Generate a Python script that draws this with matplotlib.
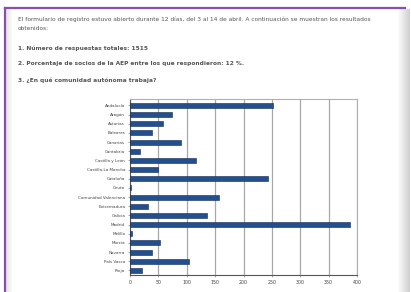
import numpy as np
import matplotlib.pyplot as plt
from matplotlib.patches import Rectangle
from matplotlib.lines import Line2D

# comunidades y numero de respuestas
comunidades = ['Andalucía', 'Aragón', 'Asturias', 'Baleares', 'Canarias', 'Cantabria',
               'Castilla y León', 'Castilla-La Mancha', 'Cataluña', 'Ceuta',
               'Comunidad Valenciana', 'Extremadura', 'Galicia', 'Madrid', 'Melilla',
               'Murcia', 'Navarra', 'País Vasco', 'Rioja']
respuestas = [252, 74, 58, 39, 90, 18, 116, 49, 243, 1, 157, 31, 136, 387, 3, 53, 39, 104, 21]
ticks = [0, 50, 100, 150, 200, 250, 300, 350, 400]

textos = ['El formulario de registro estuvo abierto durante 12 días, del 3 al 14 de abril. A continuación se muestran los resultados',
          'obtenidos:',
          '1. Número de respuestas totales: 1515',
          '2. Porcentaje de socios de la AEP entre los que respondieron: 12 %.',
          '3. ¿En qué comunidad autónoma trabaja?']

W, H = 411, 292
fig = plt.figure(figsize=(W / 100, H / 100), dpi=100)
fig.patch.set_facecolor('white')

# sombra a la derecha y a la izquierda
for i in range(12):
    fig.patches.append(Rectangle(((398 + i) / W, 0), 1 / W, 1 - 9 / H, transform=fig.transFigure,
                                 facecolor='#b0b0b0', alpha=0.05 * (i + 1), edgecolor='none'))
for i in range(6):
    fig.patches.append(Rectangle(((6 + i) / W, 0), 1 / W, 1 - 9 / H, transform=fig.transFigure,
                                 facecolor='#c0c0c0', alpha=0.4 - 0.06 * i, edgecolor='none'))
# lineas moradas arriba e izquierda
fig.lines.append(Line2D([5 / W, 405 / W], [1 - 8 / H, 1 - 8 / H], transform=fig.transFigure,
                        color='#8a4fa8', linewidth=1.6))
fig.lines.append(Line2D([5 / W, 5 / W], [0, 1 - 8 / H], transform=fig.transFigure,
                        color='#8a4fa8', linewidth=1.6))

# textos de la pagina
ys = [19, 29, 48, 64, 80]
for t, y in zip(textos, ys):
    fig.text(18 / W, 1 - y / H, t, fontsize=4.2, color='#555555', va='center',
             fontweight='bold' if t[0].isdigit() else 'normal')

# grafico de barras
ax = fig.add_axes([130 / W, 17 / H, 227 / W, 176 / H])
pos = np.arange(len(comunidades))
ax.barh(pos, respuestas, height=0.55, color='#234f8e', edgecolor='#112a50', linewidth=0.4, zorder=3)
ax.set_ylim(len(comunidades) - 0.5, -0.7)
ax.set_xlim(0, 400)
ax.set_yticks(pos)
ax.set_yticklabels(comunidades, fontsize=3.0, color='#444444')
ax.set_xticks(ticks)
ax.set_xticklabels(ticks, fontsize=3.4, color='#444444')
ax.grid(axis='x', color='#a8a8a8', linewidth=0.9, zorder=0)
ax.tick_params(length=1.5, width=0.5, pad=2, colors='#888888', labelcolor='#444444')
for s in ax.spines.values():
    s.set_color('#b0b0b0')
    s.set_linewidth(0.8)
ax.spines['left'].set_color('#555555')
ax.spines['bottom'].set_color('#555555')

fig.savefig('out.png', dpi=100)
